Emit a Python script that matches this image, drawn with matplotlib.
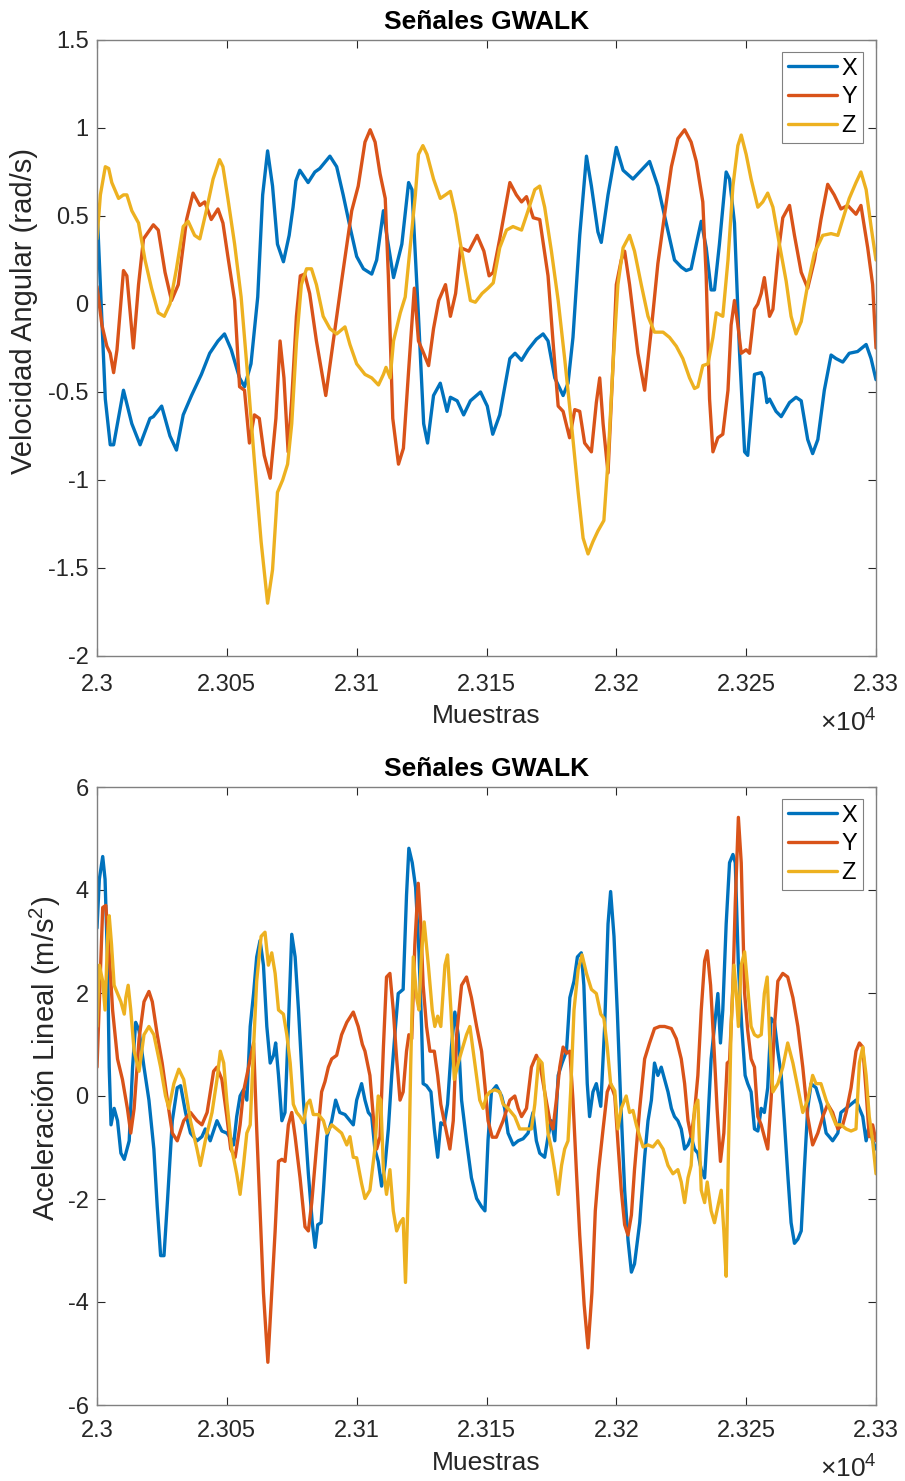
import numpy as np
import matplotlib
matplotlib.use("Agg")
import matplotlib.pyplot as plt

plt.rcParams['font.family'] = ['Liberation Sans', 'DejaVu Sans']
plt.rcParams['mathtext.fontset'] = 'custom'
plt.rcParams['mathtext.rm'] = 'Liberation Sans'
plt.rcParams['mathtext.it'] = 'Liberation Sans:italic'

# ---------------- data ----------------
muestra_inicial = 23000

# Angular velocity (rad/s): sample offset / value pairs
gx_t = [0, 3.2, 5.1, 6.4, 10.2, 13.4, 16.6, 20.4, 21.7, 24.9, 28.1, 30.6, 33.2, 36.4, 40.2,
        43.4, 46.6, 49.1, 51.7, 54.9, 56.8, 59.3, 61.9, 63.8, 65.7, 67.6, 69.5, 71.8, 74.0,
        75.5, 76.6, 78.1, 81.3, 83.9, 85.8, 89.7, 92.3, 94.8, 97.4, 100, 102.6, 105.8, 107.7,
        110.3, 111.6, 114.2, 117.4, 120, 121.3, 123.8, 125.8, 127.3, 129.6, 132.2, 134.8,
        136.1, 138.7, 141.2, 143.8, 147.7, 150.3, 152.4, 155.1, 159, 161, 163.5, 166, 169.2,
        171.8, 173.7, 176.3, 179.5, 181.4, 183.3, 185.9, 188.5, 190.4, 192.9, 194.2, 196.8,
        200, 202.6, 206.4, 209.6, 212.8, 216, 219.2, 222.4, 225, 226.9, 228.8, 230.8, 232.7,
        234.6, 236.5, 237.8, 239.7, 242.3, 243.6, 245.5, 247.4, 249.4, 250.6, 253.2, 255.8,
        256.7, 258, 259, 261.5, 263.5, 266.7, 269.2, 271.2, 273.7, 275.6, 277.6, 280.1, 282.7,
        284.6, 287.2, 289.7, 292.9, 296.2, 298.1, 300]
gx_v = [0.55, -0.54, -0.80, -0.80, -0.49, -0.68, -0.80, -0.65, -0.64, -0.58, -0.75, -0.83,
        -0.63, -0.52, -0.40, -0.28, -0.21, -0.17, -0.26, -0.42, -0.47, -0.34, 0.04, 0.62, 0.87,
        0.67, 0.34, 0.24, 0.39, 0.55, 0.70, 0.76, 0.69, 0.75, 0.77, 0.84, 0.78, 0.62, 0.44,
        0.27, 0.20, 0.17, 0.25, 0.53, 0.39, 0.15, 0.34, 0.69, 0.65, -0.07, -0.68, -0.79, -0.52,
        -0.45, -0.61, -0.53, -0.55, -0.63, -0.55, -0.50, -0.58, -0.74, -0.63, -0.31, -0.28,
        -0.32, -0.26, -0.20, -0.17, -0.21, -0.42, -0.52, -0.45, -0.19, 0.39, 0.84, 0.67, 0.41,
        0.35, 0.62, 0.89, 0.76, 0.71, 0.76, 0.81, 0.67, 0.46, 0.25, 0.21, 0.19, 0.20, 0.34,
        0.47, 0.32, 0.08, 0.08, 0.34, 0.75, 0.71, 0.46, -0.26, -0.84, -0.86, -0.40, -0.39,
        -0.42, -0.56, -0.54, -0.61, -0.64, -0.56, -0.53, -0.55, -0.77, -0.85, -0.77, -0.49,
        -0.29, -0.31, -0.33, -0.28, -0.27, -0.23, -0.31, -0.43]

gy_t = [0, 1.9, 3.8, 5.1, 6.4, 7.7, 10.2, 11.5, 14, 16, 17.9, 21.7, 23.6, 26.2, 28.7, 31.3,
        34.5, 37, 39.6, 41.5, 44, 46.6, 48.5, 50.4, 53, 54.9, 56.8, 58.7, 60.6, 62.5, 64.4,
        66.7, 68.9, 70.5, 72, 73.6, 75, 76.8, 78.3, 80, 81.9, 84.5, 88.1, 91, 94.2, 98.1,
        100.6, 103.2, 105.2, 107.1, 109, 111, 112.2, 113.9, 116.1, 118, 120, 122.2, 123.8,
        125.8, 127.7, 129.6, 131.6, 134.2, 136.1, 138.1, 140, 143.2, 146.4, 149, 151, 152.6,
        155.1, 159, 161.5, 163.5, 165.4, 168, 170.5, 173.7, 175.6, 177.6, 179.5, 182, 184,
        185.9, 187.8, 190.4, 192.3, 193.6, 194.9, 196.8, 198.7, 200, 201.9, 203.2, 205.1,
        208.3, 210.9, 213.5, 216, 218.6, 221.2, 223.7, 226.3, 228.8, 230.8, 232.1, 233.3,
        234.6, 235.9, 237.2, 239.1, 241, 243, 244.2, 245.5, 246.8, 248.1, 250, 251.3, 253.2,
        254.5, 255.8, 257, 259, 260.3, 262.2, 264.1, 266.7, 268.6, 271.2, 273.7, 276.3, 278.8,
        281.4, 283.9, 286.5, 289.1, 292.3, 294.2, 296.8, 298.7, 300]
gy_v = [0.10, -0.12, -0.24, -0.28, -0.39, -0.26, 0.19, 0.16, -0.25, 0.11, 0.37, 0.45, 0.42,
        0.18, 0.02, 0.11, 0.48, 0.63, 0.56, 0.58, 0.48, 0.54, 0.46, 0.27, 0.02, -0.47, -0.49,
        -0.79, -0.63, -0.65, -0.86, -0.99, -0.65, -0.21, -0.42, -0.84, -0.54, -0.07, 0.16,
        0.17, 0.06, -0.21, -0.52, -0.21, 0.13, 0.53, 0.67, 0.92, 0.99, 0.92, 0.74, 0.60, 0.16,
        -0.65, -0.91, -0.82, -0.38, 0.09, -0.21, -0.28, -0.35, -0.14, 0.02, 0.11, -0.07, 0.06,
        0.32, 0.30, 0.39, 0.30, 0.16, 0.18, 0.37, 0.69, 0.62, 0.58, 0.61, 0.49, 0.48, 0.16,
        -0.21, -0.58, -0.61, -0.76, -0.60, -0.61, -0.79, -0.84, -0.56, -0.42, -0.68, -0.96,
        -0.35, 0.11, 0.25, 0.30, 0.11, -0.28, -0.49, -0.14, 0.23, 0.51, 0.78, 0.94, 0.99, 0.92,
        0.81, 0.69, 0.58, 0.16, -0.54, -0.84, -0.76, -0.74, -0.49, -0.12, 0.02, -0.12, -0.28,
        -0.26, -0.28, -0.03, 0.0, 0.06, 0.15, -0.07, -0.03, 0.27, 0.49, 0.56, 0.39, 0.18, 0.09,
        0.25, 0.48, 0.68, 0.62, 0.54, 0.56, 0.51, 0.56, 0.32, 0.11, -0.25]

gz_t = [0, 1.3, 3.2, 4.5, 5.7, 8.3, 10.2, 11.5, 13.4, 16, 18.5, 21, 23.6, 25.9, 28.1, 30.6,
        33.2, 35.1, 37.6, 39.6, 42.1, 44.7, 47.2, 48.5, 50.4, 53, 55.5, 58.1, 60.6, 63.2,
        65.7, 67.6, 69.5, 71.5, 73.4, 75, 76.8, 78.7, 80.7, 82.6, 84.5, 87.1, 89.7, 92.3,
        95.5, 97.4, 100, 103.2, 105.8, 108.4, 110.3, 111.3, 112.9, 114.2, 116.8, 118.7, 120.6,
        122.6, 123.8, 125.5, 127.1, 129.6, 132.2, 134.2, 136.1, 138.1, 140, 141.9, 143.8,
        145.7, 148.3, 150.6, 152.6, 155.1, 157.7, 160.2, 163.5, 166, 168.6, 170.5, 172.4, 175,
        177.6, 180.1, 182.7, 185.3, 187.2, 189.1, 191, 192.9, 195.2, 196.8, 198.7, 200.6,
        202.6, 205.1, 207, 209.6, 212.2, 214.7, 218, 220.5, 223.1, 225.6, 228.2, 230.1, 231.4,
        233.3, 235.3, 237.2, 238.5, 239.7, 241, 243, 244.9, 246.8, 248.1, 250, 251.9, 254.5,
        256.4, 258.3, 260.3, 262.8, 265.4, 267.3, 269.2, 271.2, 273.7, 276.3, 279.5, 282.7,
        285.3, 287.2, 289.7, 292.3, 294.2, 296.2, 298.1, 300]
gz_v = [0.37, 0.62, 0.78, 0.77, 0.69, 0.60, 0.62, 0.62, 0.53, 0.46, 0.25, 0.09, -0.05, -0.07,
        0.0, 0.20, 0.44, 0.47, 0.39, 0.37, 0.53, 0.71, 0.82, 0.78, 0.60, 0.34, 0.04, -0.42,
        -0.89, -1.35, -1.70, -1.51, -1.07, -1.00, -0.91, -0.68, -0.22, 0.11, 0.20, 0.20, 0.11,
        -0.07, -0.14, -0.17, -0.13, -0.23, -0.34, -0.40, -0.42, -0.46, -0.40, -0.36, -0.42,
        -0.21, -0.05, 0.04, 0.32, 0.62, 0.85, 0.90, 0.85, 0.71, 0.60, 0.62, 0.64, 0.51, 0.34,
        0.18, 0.02, 0.01, 0.06, 0.09, 0.12, 0.32, 0.42, 0.44, 0.42, 0.53, 0.65, 0.67, 0.55,
        0.30, 0.02, -0.31, -0.68, -1.07, -1.33, -1.42, -1.35, -1.29, -1.23, -0.89, -0.35, 0.11,
        0.32, 0.39, 0.30, 0.11, -0.07, -0.16, -0.16, -0.19, -0.24, -0.31, -0.42, -0.48, -0.47,
        -0.35, -0.34, -0.19, -0.05, -0.06, -0.07, 0.25, 0.67, 0.90, 0.96, 0.85, 0.71, 0.55,
        0.58, 0.63, 0.55, 0.34, 0.13, -0.07, -0.17, -0.10, 0.11, 0.29, 0.39, 0.40, 0.39, 0.48,
        0.60, 0.69, 0.75, 0.65, 0.44, 0.25]

# Linear acceleration (m/s^2)
ax_t = [0, 0.9, 2.2, 3.1, 4.1, 4.7, 5.4, 6.6, 7.9, 9.2, 10.5, 12.4, 13.7, 14.9, 16.2, 18.1,
        20, 21.9, 23.2, 24.5, 25.8, 27.1, 29, 30.9, 32.2, 34.1, 36, 38.5, 40.4, 41.7, 43.6,
        46.2, 48.1, 50, 51.9, 52.6, 53.8, 55.1, 56.4, 57.7, 59, 60.3, 61.5, 62.8, 64.1, 65.4,
        66.7, 68, 68.8, 69.9, 71.2, 72.4, 73.7, 75, 76.3, 77.6, 79.5, 81.4, 82.9, 84, 85, 86.3,
        87.2, 88.5, 90.4, 91.9, 93.5, 95.5, 97.4, 98.7, 100, 101.9, 103.2, 104.5, 105.8, 107,
        108.3, 109.6, 110.9, 112.2, 113.5, 114.7, 116, 117.9, 119.2, 120.1, 121.4, 122.7, 124,
        125, 125.6, 126.9, 128.6, 129.9, 131.2, 132.4, 133.7, 135, 136.5, 137.8, 139.1, 140.4,
        142.3, 144.2, 146.2, 148.1, 149.4, 150.6, 151.9, 153.8, 155.8, 157, 158.3, 160.3,
        162.2, 164.1, 166, 167.9, 169.2, 170.5, 172.4, 173.7, 175, 176.3, 177.6, 179.1, 180.8,
        182.1, 183.7, 185, 186.5, 187.5, 188.8, 189.7, 191, 192.3, 194, 195.5, 196.8, 197.8,
        199.1, 200.4, 201.6, 203.2, 204.5, 205.8, 207, 209, 210.9, 212.2, 213.5, 214.7, 216,
        217.3, 218.6, 219.9, 221.2, 222.4, 223.7, 225, 226.3, 227.6, 228.8, 230.1, 231.4,
        232.7, 234, 235.2, 236.5, 237.8, 239.1, 240.1, 241, 242.3, 243.6, 244.9, 245.8, 247,
        248.3, 249.6, 250.6, 251.9, 253.2, 254.5, 255.8, 257, 258.3, 259.6, 260.9, 262.2,
        263.5, 264.7, 266, 267.3, 268.6, 269.9, 271.2, 272.4, 273.7, 275, 276.9, 278.8, 280.8,
        282, 283.3, 285.3, 286.5, 288.5, 290.4, 292.3, 293.6, 294.9, 296.2, 297.4, 298.7, 300]
ax_v = [3.26, 4.21, 4.65, 4.21, 2.54, 0.56, -0.56, -0.24, -0.48, -1.11, -1.23, -0.87, 0.56,
        1.43, 1.27, 0.56, -0.08, -1.03, -2.15, -3.10, -3.10, -2.07, -0.48, 0.16, 0.20, -0.32,
        -0.72, -0.87, -0.79, -0.64, -0.87, -0.48, -0.68, -0.72, -0.85, -0.95, -0.40, 0.0, 0.12,
        -0.08, 1.35, 1.99, 2.70, 3.02, 2.54, 1.35, 0.64, 0.79, 1.03, 0.40, -0.48, -0.32, 1.35,
        3.14, 2.70, 1.67, -0.08, -1.51, -2.46, -2.94, -2.50, -2.46, -1.83, -0.79, -0.48, -0.08,
        -0.32, -0.36, -0.48, -0.56, -0.08, 0.24, -0.08, -0.32, -0.40, -1.03, -1.27, -1.75,
        -1.35, -0.64, 0.40, 1.19, 1.99, 2.07, 3.90, 4.81, 4.53, 4.05, 2.78, 1.35, 0.24, 0.20,
        0.08, -0.64, -1.19, -0.52, -0.56, -0.16, 0.95, 1.63, 1.19, -0.08, -0.87, -1.59, -1.99,
        -2.15, -2.23, -0.85, 0.08, 0.20, 0.0, -0.24, -0.72, -0.95, -0.87, -0.83, -0.72, -0.32,
        -0.87, -1.11, -1.19, -0.79, -0.48, -0.87, 0.40, 0.64, 0.87, 1.91, 2.23, 2.70, 2.78,
        2.15, 0.24, -0.40, 0.08, 0.24, -0.20, 1.35, 3.34, 3.97, 3.10, 1.60, 0.0, -1.83, -2.80,
        -3.42, -3.26, -2.46, -1.19, -0.48, -0.08, 0.64, 0.40, 0.56, 0.32, 0.08, -0.24, -0.40,
        -0.48, -0.64, -1.03, -0.95, -0.79, -1.03, -1.11, -1.43, -1.59, -0.56, 0.72, 1.35, 1.99,
        1.03, 1.67, 3.34, 4.53, 4.69, 4.53, 2.54, 1.35, 0.40, 0.24, 0.08, -0.64, -0.68, -0.24,
        -0.32, 0.16, 1.51, 1.43, 0.87, 0.40, -0.48, -1.51, -2.46, -2.86, -2.78, -2.62, -1.43,
        -0.24, 0.24, 0.16, -0.16, -0.72, -0.79, -0.87, -0.72, -0.32, -0.24, -0.16, -0.08,
        -0.24, -0.40, -0.87, -0.56, -0.87, -1.03]

ay_t = [0, 0.9, 2.2, 3.4, 4.7, 6, 7.9, 9.8, 11.7, 13, 14.3, 16.2, 18.1, 20, 21.3, 23.2, 25.1,
        27.1, 29, 30.9, 33.4, 36, 38.5, 40.4, 42.4, 44.9, 46.2, 48.1, 50, 51.5, 53.2, 55.1,
        56.4, 57.7, 59, 60.3, 61.5, 62.8, 64.1, 65.8, 67.3, 68.6, 69.9, 71.2, 72.4, 73.7, 75,
        76.3, 78.2, 80.1, 81.4, 82.7, 84.6, 86.5, 87.8, 89.1, 90.4, 92.3, 94.2, 96.2, 98.7,
        100.6, 102.2, 103.2, 105.1, 106.4, 107.7, 109, 110.3, 111.5, 112.8, 114.1, 115.4,
        116.7, 117.9, 119.2, 120.1, 121.2, 122.4, 123.7, 124.7, 125.6, 126.9, 128.2, 129.9,
        131.2, 132.4, 134, 135.9, 137.2, 138.5, 140.4, 142.3, 144.2, 146.2, 148.1, 149.4,
        150.6, 152.2, 153.8, 156.4, 159, 160.9, 162.2, 163.5, 165.4, 167.3, 169.2, 170.5,
        172.4, 174.4, 175.6, 176.9, 178.2, 179.5, 180.8, 182.1, 183.3, 184.6, 185.9, 187.6,
        189.1, 190.6, 191.9, 193.2, 194.9, 196.5, 197.8, 199.4, 200.6, 201.9, 203.2, 204.5,
        205.8, 207, 209, 210.9, 212.8, 214.7, 216.7, 218.6, 221.2, 223.1, 225, 226.3, 227.6,
        228.8, 230.1, 231.4, 232.7, 234, 235, 236.3, 237.6, 238.8, 240.1, 241.4, 242.7, 243.6,
        244.9, 245.8, 247, 248.1, 249.4, 250.6, 251.9, 253.2, 254.5, 255.8, 257, 258.3, 259.6,
        260.9, 262.2, 264.1, 266, 268, 269.9, 271.8, 273.7, 275.6, 277.6, 279.5, 281.4, 283.3,
        285.3, 287.2, 288.5, 290.4, 292.3, 293.6, 294.9, 296.2, 297.4, 298.7, 300]
ay_v = [0.56, 1.83, 3.66, 3.70, 2.78, 1.67, 0.72, 0.32, -0.24, -0.72, -0.24, 1.11, 1.83, 2.03,
        1.83, 1.19, 0.64, -0.08, -0.72, -0.87, -0.48, -0.32, -0.48, -0.56, -0.32, 0.48, 0.56,
        0.32, -0.40, -1.03, -1.19, -0.56, 0.08, 0.40, 0.72, 1.03, -0.64, -2.23, -3.82, -5.17,
        -3.82, -2.62, -1.27, -1.23, -1.27, -0.56, -0.32, -0.79, -1.59, -2.54, -2.62, -2.07,
        -0.95, 0.08, 0.28, 0.56, 0.72, 0.79, 1.19, 1.43, 1.63, 1.35, 1.0, 0.87, 0.40, -0.40,
        -1.03, -0.79, 0.95, 2.31, 2.38, 1.67, 0.72, -0.08, 0.08, 0.87, 1.19, 1.11, 2.94, 4.13,
        3.34, 2.15, 1.35, 0.87, 0.87, 0.40, -0.16, -0.56, -1.03, -0.48, 1.19, 2.15, 2.31, 1.91,
        1.35, 0.87, 0.20, -0.48, -0.80, -0.80, -0.48, -0.08, 0.0, -0.24, -0.40, -0.24, 0.56,
        0.79, 0.64, 0.08, -0.48, -0.64, -0.08, 0.56, 0.95, 0.83, 0.87, -0.08, -1.43, -2.70,
        -4.05, -4.89, -3.82, -2.23, -1.43, -0.64, 0.08, 0.24, 0.0, -0.90, -1.83, -2.50, -2.70,
        -2.31, -1.43, -0.24, 0.72, 1.03, 1.31, 1.35, 1.35, 1.31, 1.11, 0.72, 0.24, -0.48, -0.79,
        -0.32, 0.40, 1.67, 2.62, 2.82, 2.15, 0.95, -0.24, -1.27, -0.72, 0.64, 0.68, 2.15, 3.74,
        5.41, 4.53, 2.00, 1.27, 0.72, 0.56, -0.40, -0.56, -0.79, -1.03, -0.08, 1.35, 2.23,
        2.38, 2.31, 1.91, 1.35, 0.56, -0.40, -0.95, -0.72, -0.40, -0.16, -0.32, -0.64, -0.56,
        -0.32, 0.16, 0.87, 1.03, 0.95, 0.08, -0.79, -0.56, -0.87]

az_t = [0, 0.9, 2.2, 3.1, 4.1, 4.7, 5.6, 6.6, 7.9, 9.2, 10.5, 11.1, 12, 13, 14.3, 16.2, 18.1,
        20, 21.9, 24.5, 26.4, 27.7, 29.6, 31.5, 33.4, 36, 38.5, 39.8, 41.7, 44.3, 46.2, 47.5,
        48.8, 50, 51.9, 53.8, 55.1, 56.4, 57.7, 59, 60.3, 61.5, 63.2, 64.7, 66, 67.3, 68.6,
        69.9, 71.8, 73.1, 74.4, 75.6, 76.9, 78.2, 79.5, 80.8, 82, 83.3, 85.3, 87.2, 88.5, 90.4,
        92.3, 94.2, 96.2, 97.4, 98.7, 100, 101.9, 103.2, 105.1, 107, 108.3, 109.3, 110.3,
        111.5, 112.8, 114.1, 115.4, 116.7, 117.9, 118.8, 119.9, 120.8, 121.8, 123.1, 124, 125,
        126, 127.6, 129.1, 130.1, 131.2, 132.4, 134, 135, 136.3, 137.6, 139.1, 140.4, 142.3,
        143.6, 145.5, 147.4, 148.7, 150, 151.3, 153.2, 155.1, 156.4, 158.3, 160.9, 162.8,
        164.7, 167.3, 168.6, 170.1, 171.4, 172.4, 173.7, 175, 176.5, 177.6, 178.9, 180.1,
        181.4, 182.4, 183.7, 185.3, 186.8, 188.5, 190.4, 192.3, 194, 195.2, 196.5, 197.8,
        199.4, 200.6, 201.9, 203.8, 205.1, 206.4, 207.7, 209, 210.3, 212.2, 214.1, 216, 218,
        219.9, 221.8, 223.7, 225, 226.3, 227.6, 228.8, 230.1, 231.4, 232.7, 234, 235, 236.5,
        237.8, 239.1, 240.4, 241.4, 242.3, 243.2, 244.2, 245.3, 246.2, 247, 248.1, 249.4,
        250.6, 251.9, 253.2, 254.5, 255.8, 257, 258.1, 259, 260.3, 262.2, 264.1, 266, 268,
        269.9, 271.8, 273.7, 275.6, 276.9, 278.8, 280.8, 282.7, 284.6, 286.5, 288.5, 290.4,
        292.3, 293.6, 294.9, 296.2, 297.4, 298.7, 300]
az_v = [1.35, 2.54, 2.23, 1.67, 3.10, 3.50, 2.94, 2.15, 1.99, 1.83, 1.59, 1.91, 2.15, 1.67,
        0.87, 0.48, 1.19, 1.35, 1.19, 0.56, 0.0, -0.24, 0.24, 0.52, 0.32, -0.48, -1.03, -1.35,
        -0.87, -0.32, 0.32, 0.87, 0.64, -0.10, -1.03, -1.51, -1.91, -1.35, -0.72, -0.56, 0.95,
        2.23, 3.10, 3.18, 2.54, 2.78, 2.38, 1.67, 1.59, 1.19, 0.64, -0.16, -0.32, -0.40, -0.52,
        -0.16, -0.08, -0.36, -0.36, -0.48, -0.72, -0.56, -0.64, -0.72, -0.95, -0.79, -1.19,
        -1.20, -1.70, -1.99, -1.83, -1.03, 0.0, -0.08, -1.43, -1.91, -1.43, -2.23, -2.62, -2.46,
        -2.38, -3.62, -1.83, 0.56, 2.70, 1.91, 1.67, 2.78, 3.38, 2.54, 1.67, 1.35, 1.55, 1.35,
        2.54, 2.74, 1.67, 0.32, 0.64, 0.87, 1.19, 1.35, 0.64, -0.08, -0.24, 0.0, 0.08, 0.12,
        0.08, -0.16, -0.24, -0.40, -0.64, -0.64, -0.64, -0.16, 0.72, 0.64, 0.08, -0.72, -1.03,
        -1.51, -1.91, -1.35, -1.03, -0.87, 0.08, 1.67, 2.46, 2.74, 2.38, 2.07, 1.99, 1.59, 1.51,
        0.95, 0.24, 0.10, -0.64, -0.24, 0.0, -0.32, -0.28, -0.56, -0.79, -0.99, -0.95, -0.99,
        -0.87, -1.03, -1.35, -1.51, -1.43, -1.67, -2.07, -1.59, -1.35, -0.24, -0.08, -1.83,
        -2.07, -1.67, -2.23, -2.46, -2.15, -1.83, -2.62, -3.50, -1.03, 1.35, 2.54, 1.99, 1.35,
        2.54, 2.80, 2.10, 1.35, 1.19, 1.15, 1.19, 1.99, 2.31, 1.19, 0.08, 0.24, 0.56, 1.03,
        0.64, 0.16, -0.32, -0.08, 0.40, 0.24, 0.24, -0.08, -0.32, -0.56, -0.56, -0.64, -0.68,
        -0.64, 0.64, 0.95, 0.40, -0.40, -0.87, -1.51]

xticks = [23000, 23050, 23100, 23150, 23200, 23250, 23300]
xtick_labels = ['2.3', '2.305', '2.31', '2.315', '2.32', '2.325', '2.33']
gyro_yticks = [-2, -1.5, -1, -0.5, 0, 0.5, 1, 1.5]
gyro_ylabels = ['-2', '-1.5', '-1', '-0.5', '0', '0.5', '1', '1.5']
acc_yticks = [-6, -4, -2, 0, 2, 4, 6]
acc_ylabels = ['-6', '-4', '-2', '0', '2', '4', '6']
series_names = ['X', 'Y', 'Z']
colors = ['#0072BD', '#D95319', '#EDB120']

# ---------------- figure ----------------
W, H = 905, 1481
fig = plt.figure(figsize=(W / 100, H / 100), dpi=100)

def rect(l, t, r, b):
    return [l / W, 1 - b / H, (r - l) / W, (b - t) / H]

ax1 = fig.add_axes(rect(97, 40, 876, 656))
ax2 = fig.add_axes(rect(97, 787, 876, 1405))

axis_col = '#262626'
panels = [
    (ax1, [(gx_t, gx_v), (gy_t, gy_v), (gz_t, gz_v)], (-2, 1.5), gyro_yticks, gyro_ylabels,
     'Velocidad Angular (rad/s)', -0.0937, 13, -0.108),
    (ax2, [(ax_t, ax_v), (ay_t, ay_v), (az_t, az_v)], (-6, 6), acc_yticks, acc_ylabels,
     r'Aceleración Lineal (m/s$^2$)', -0.0668, 11, -0.104),
]

for ax, series, ylim, yt, ytl, ylab, ylab_x, xpad, exp_y in panels:
    for (t, v), c, name in zip(series, colors, series_names):
        ax.plot(muestra_inicial + np.asarray(t), v, color=c, lw=2.4, label=name,
                solid_joinstyle='round', solid_capstyle='round')
    ax.set_xlim(23000, 23300)
    ax.set_ylim(*ylim)
    ax.set_xticks(xticks)
    ax.set_xticklabels(xtick_labels)
    ax.set_yticks(yt)
    ax.set_yticklabels(ytl)
    ax.tick_params(direction='in', length=6, width=0.8, colors=axis_col, labelsize=17,
                   top=True, right=True)
    ax.tick_params(axis='x', pad=xpad)
    ax.tick_params(axis='y', pad=6)
    for sp in ax.spines.values():
        sp.set_color('#808080')
        sp.set_linewidth(1.0)
    ax.set_title('Señales GWALK', fontsize=19, fontweight='bold', color='black', pad=8)
    ax.set_xlabel('Muestras', fontsize=19, color=axis_col, labelpad=6)
    ax.set_ylabel(ylab, fontsize=21, color=axis_col, va='center')
    ax.yaxis.set_label_coords(ylab_x, 0.56)
    ax.text(0.928, exp_y, r'$\times\mathregular{10^{4}}$', transform=ax.transAxes,
            fontsize=19, color=axis_col, ha='left', va='center')
    leg = ax.legend(loc='upper right', bbox_to_anchor=(0.983, 0.981), borderaxespad=0,
                    fontsize=17, handlelength=2.1, handletextpad=0.17, labelspacing=0.28,
                    borderpad=0.25, fancybox=False, framealpha=1, edgecolor='#808080')
    leg.get_frame().set_linewidth(0.8)

fig.savefig('out.png', dpi=100)
